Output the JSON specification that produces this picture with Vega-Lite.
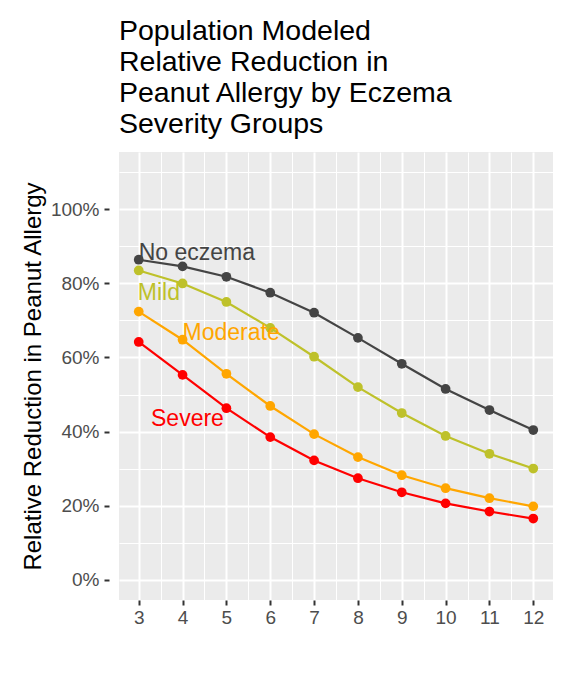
{
  "$schema": "https://vega.github.io/schema/vega-lite/v6.json",
  "autosize": "none",
  "width": 434,
  "height": 448,
  "padding": {"left": 119, "top": 152, "right": 19, "bottom": 80},
  "background": "white",
  "title": {
    "text": ["Population Modeled", "Relative Reduction in", "Peanut Allergy by Eczema", "Severity Groups"],
    "anchor": "start",
    "frame": "group",
    "font": "Liberation Sans",
    "fontSize": 28.5,
    "fontWeight": "normal",
    "color": "#000000",
    "lineHeight": 31,
    "offset": 14
  },
  "config": {
    "view": {"fill": "#ebebeb", "stroke": null},
    "axis": {
      "labelFont": "Liberation Sans",
      "labelFontSize": 19,
      "titleFont": "Liberation Sans",
      "gridColor": "white",
      "domain": false,
      "tickColor": "#333333",
      "tickWidth": 2,
      "tickSize": 5,
      "labelColor": "#4d4d4d",
      "titleFontWeight": "normal",
      "titleColor": "#000000"
    }
  },
  "datasets": {
    "curves": [
      {"group": "No eczema", "age": 3, "reduction": 0.864},
      {"group": "No eczema", "age": 4, "reduction": 0.846},
      {"group": "No eczema", "age": 5, "reduction": 0.818},
      {"group": "No eczema", "age": 6, "reduction": 0.775},
      {"group": "No eczema", "age": 7, "reduction": 0.721},
      {"group": "No eczema", "age": 8, "reduction": 0.653},
      {"group": "No eczema", "age": 9, "reduction": 0.583},
      {"group": "No eczema", "age": 10, "reduction": 0.515},
      {"group": "No eczema", "age": 11, "reduction": 0.458},
      {"group": "No eczema", "age": 12, "reduction": 0.404},
      {"group": "Mild", "age": 3, "reduction": 0.835},
      {"group": "Mild", "age": 4, "reduction": 0.800},
      {"group": "Mild", "age": 5, "reduction": 0.750},
      {"group": "Mild", "age": 6, "reduction": 0.680},
      {"group": "Mild", "age": 7, "reduction": 0.602},
      {"group": "Mild", "age": 8, "reduction": 0.520},
      {"group": "Mild", "age": 9, "reduction": 0.450},
      {"group": "Mild", "age": 10, "reduction": 0.388},
      {"group": "Mild", "age": 11, "reduction": 0.340},
      {"group": "Mild", "age": 12, "reduction": 0.300},
      {"group": "Moderate", "age": 3, "reduction": 0.724},
      {"group": "Moderate", "age": 4, "reduction": 0.648},
      {"group": "Moderate", "age": 5, "reduction": 0.556},
      {"group": "Moderate", "age": 6, "reduction": 0.469},
      {"group": "Moderate", "age": 7, "reduction": 0.393},
      {"group": "Moderate", "age": 8, "reduction": 0.331},
      {"group": "Moderate", "age": 9, "reduction": 0.282},
      {"group": "Moderate", "age": 10, "reduction": 0.247},
      {"group": "Moderate", "age": 11, "reduction": 0.220},
      {"group": "Moderate", "age": 12, "reduction": 0.198},
      {"group": "Severe", "age": 3, "reduction": 0.642},
      {"group": "Severe", "age": 4, "reduction": 0.553},
      {"group": "Severe", "age": 5, "reduction": 0.463},
      {"group": "Severe", "age": 6, "reduction": 0.385},
      {"group": "Severe", "age": 7, "reduction": 0.322},
      {"group": "Severe", "age": 8, "reduction": 0.274},
      {"group": "Severe", "age": 9, "reduction": 0.236},
      {"group": "Severe", "age": 10, "reduction": 0.206},
      {"group": "Severe", "age": 11, "reduction": 0.184},
      {"group": "Severe", "age": 12, "reduction": 0.165}
    ],
    "labels": [
      {"group": "No eczema", "age": 3.0, "reduction": 0.863},
      {"group": "Mild", "age": 2.98, "reduction": 0.754},
      {"group": "Moderate", "age": 4.0, "reduction": 0.647},
      {"group": "Severe", "age": 3.28, "reduction": 0.415}
    ]
  },
  "encoding": {
    "x": {
      "field": "age",
      "type": "quantitative",
      "title": null,
      "scale": {"domain": [2.55, 12.45], "nice": false, "zero": false},
      "axis": {
        "values": [3, 3.5, 4, 4.5, 5, 5.5, 6, 6.5, 7, 7.5, 8, 8.5, 9, 9.5, 10, 10.5, 11, 11.5, 12],
        "labelExpr": "datum.value % 1 === 0 ? '' + datum.value : ''",
        "labelFontSize": 19,
        "labelPadding": 3,
        "gridWidth": {"condition": {"test": "datum.value % 1 !== 0", "value": 1}, "value": 2},
        "tickOpacity": {"condition": {"test": "datum.value % 1 !== 0", "value": 0}, "value": 1}
      }
    },
    "y": {
      "field": "reduction",
      "type": "quantitative",
      "title": "Relative Reduction in Peanut Allergy",
      "scale": {"domain": [-0.055, 1.155], "nice": false, "zero": false},
      "axis": {
        "values": [0, 0.1, 0.2, 0.3, 0.4, 0.5, 0.6, 0.7, 0.8, 0.9, 1.0, 1.1],
        "labelExpr": "round(datum.value * 100) % 20 === 0 ? round(datum.value * 100) + '%' : ''",
        "labelFontSize": 19,
        "titleFontSize": 24,
        "offset": 10,
        "labelPadding": 5,
        "titlePadding": 5,
        "gridWidth": {"condition": {"test": "round(datum.value * 100) % 20 !== 0", "value": 1}, "value": 2},
        "tickOpacity": {"condition": {"test": "round(datum.value * 100) % 20 !== 0", "value": 0}, "value": 1}
      }
    },
    "color": {
      "field": "group",
      "type": "nominal",
      "legend": null,
      "scale": {
        "domain": ["No eczema", "Mild", "Moderate", "Severe"],
        "range": ["#444444", "#bec12a", "#ffa600", "#ff0000"]
      }
    }
  },
  "layer": [
    {
      "data": {"name": "curves"},
      "mark": {"type": "line", "strokeWidth": 2.2},
      "encoding": {"detail": {"field": "group", "type": "nominal"}}
    },
    {
      "data": {"name": "curves"},
      "mark": {"type": "point", "filled": true, "size": 95, "opacity": 1}
    },
    {
      "data": {"name": "labels"},
      "mark": {"type": "text", "align": "left", "baseline": "alphabetic", "font": "Liberation Sans", "fontSize": 23},
      "encoding": {"text": {"field": "group", "type": "nominal"}}
    }
  ]
}
